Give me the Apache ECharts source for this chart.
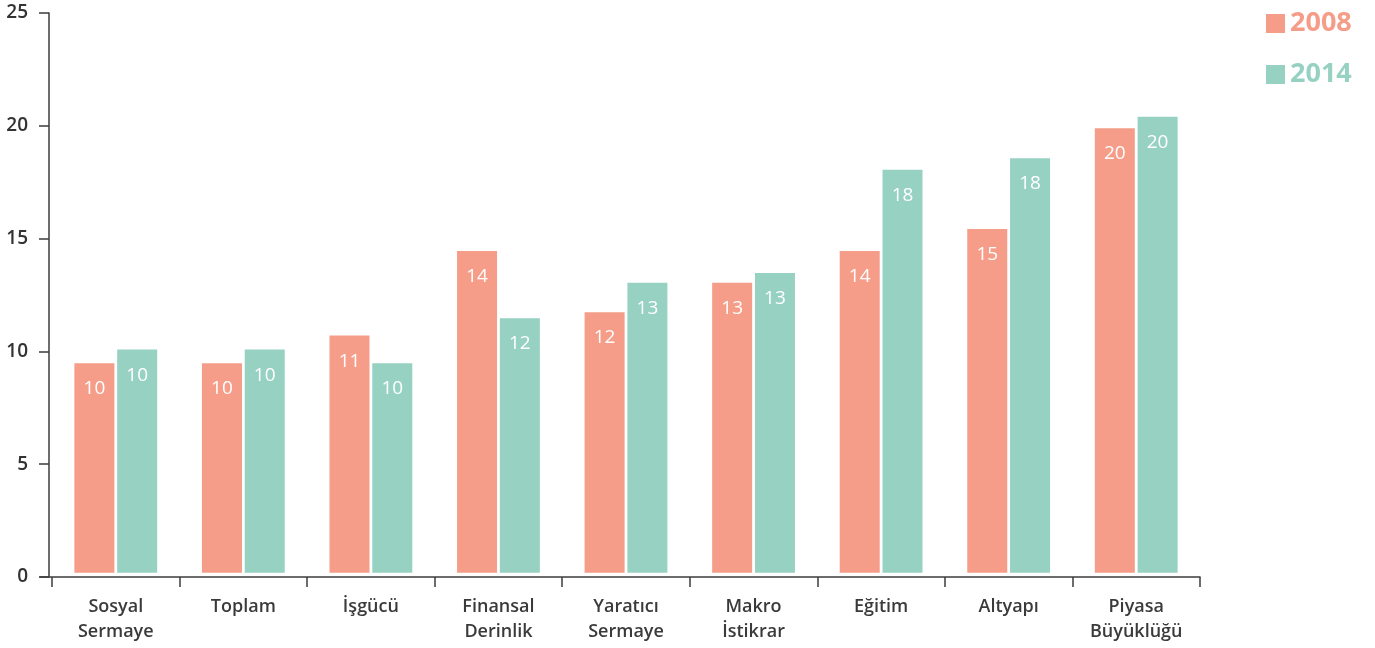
<!DOCTYPE html>
<html>
<head>
<meta charset="utf-8">
<script src="https://cdn.jsdelivr.net/npm/echarts@6/dist/echarts.min.js"></script>
<style>
html,body{margin:0;padding:0;background:#fff;}
#main{width:1375px;height:648px;}
</style>
</head>
<body>
<div id="main"></div>
<script>
const categories = ['Sosyal\nSermaye', 'Toplam', 'İşgücü', 'Finansal\nDerinlik', 'Yaratıcı\nSermaye', 'Makro\nİstikrar', 'Eğitim', 'Altyapı', 'Piyasa\nBüyüklüğü'];
const seriesNames = ['2008', '2014'];
const values2008 = [9.28, 9.28, 10.51, 14.26, 11.54, 12.85, 14.26, 15.23, 19.70];
const values2014 = [9.89, 9.89, 9.28, 11.28, 12.85, 13.28, 17.86, 18.37, 20.21];
const labels2008 = ['10', '10', '11', '14', '12', '13', '14', '15', '20'];
const labels2014 = ['10', '10', '10', '12', '13', '13', '18', '18', '20'];
const yTicks = { min: 0, max: 25, interval: 5 };

const colors = ['#F59D88', '#96D1C2'];
const FONT = '"Open Sans", "Noto Sans", sans-serif';
const axisColor = '#3d3d3d';

const chart = echarts.init(document.getElementById('main'), null, { renderer: 'canvas' });

function barSeries(name, data, labels, color) {
  return {
    name: name,
    type: 'bar',
    xAxisIndex: 0,
    yAxisIndex: 1,
    data: data,
    barWidth: 40,
    barGap: '7%',
    itemStyle: { color: color },
    label: {
      show: true,
      position: 'insideTop',
      distance: 16,
      color: '#ffffff',
      fontSize: 19,
      fontFamily: FONT,
      fontWeight: 500,
      formatter: function (p) { return labels[p.dataIndex]; }
    },
    emphasis: { disabled: true },
    animation: false
  };
}

chart.setOption({
  animation: false,
  backgroundColor: '#ffffff',
  textStyle: { fontFamily: FONT },
  legend: {
    orient: 'vertical',
    left: 1261,
    top: 5,
    itemWidth: 19,
    itemHeight: 19,
    itemGap: 24,
    icon: 'rect',
    data: [
      { name: seriesNames[0], textStyle: { color: colors[0] } },
      { name: seriesNames[1], textStyle: { color: colors[1] } }
    ],
    textStyle: { fontSize: 27, fontWeight: 'bold', fontFamily: FONT, lineHeight: 26, padding: [0, 0, 0, 0] },
    selectedMode: false
  },
  grid: [
    { left: 52, right: 175, top: 13, bottom: 71, containLabel: false },
    { left: 40, right: 175, top: 13, bottom: 71, containLabel: false }
  ],
  xAxis: [
    {
      type: 'category',
      gridIndex: 0,
      data: categories,
      axisLine: { show: false },
      axisTick: { show: true, length: 10, lineStyle: { color: axisColor, width: 1.5 } },
      axisLabel: {
        color: '#3a3a3a',
        fontSize: 18,
        fontWeight: 600,
        fontFamily: FONT,
        lineHeight: 25,
        margin: 17,
        interval: 0
      }
    },
    {
      type: 'value',
      gridIndex: 1,
      min: 0,
      max: 1,
      axisLine: { show: true, lineStyle: { color: axisColor, width: 1.5 } },
      axisTick: { show: false },
      axisLabel: { show: false },
      splitLine: { show: false }
    }
  ],
  yAxis: [
    {
      type: 'value',
      gridIndex: 0,
      min: yTicks.min,
      max: yTicks.max,
      interval: yTicks.interval,
      offset: 3,
      axisLine: { show: true, lineStyle: { color: axisColor, width: 1.5 } },
      axisTick: { show: true, length: 10, lineStyle: { color: axisColor, width: 1.5 } },
      axisLabel: { color: '#333333', fontSize: 19, fontWeight: 600, fontFamily: FONT, margin: 21 },
      splitLine: { show: false }
    },
    {
      type: 'value',
      gridIndex: 0,
      min: -0.19,
      max: 24.81,
      show: false,
      splitLine: { show: false }
    },
    {
      type: 'value',
      gridIndex: 1,
      min: 0,
      max: 1,
      show: false,
      splitLine: { show: false }
    }
  ],
  series: [
    barSeries(seriesNames[0], values2008, labels2008, colors[0]),
    barSeries(seriesNames[1], values2014, labels2014, colors[1])
  ]
});
</script>
</body>
</html>
